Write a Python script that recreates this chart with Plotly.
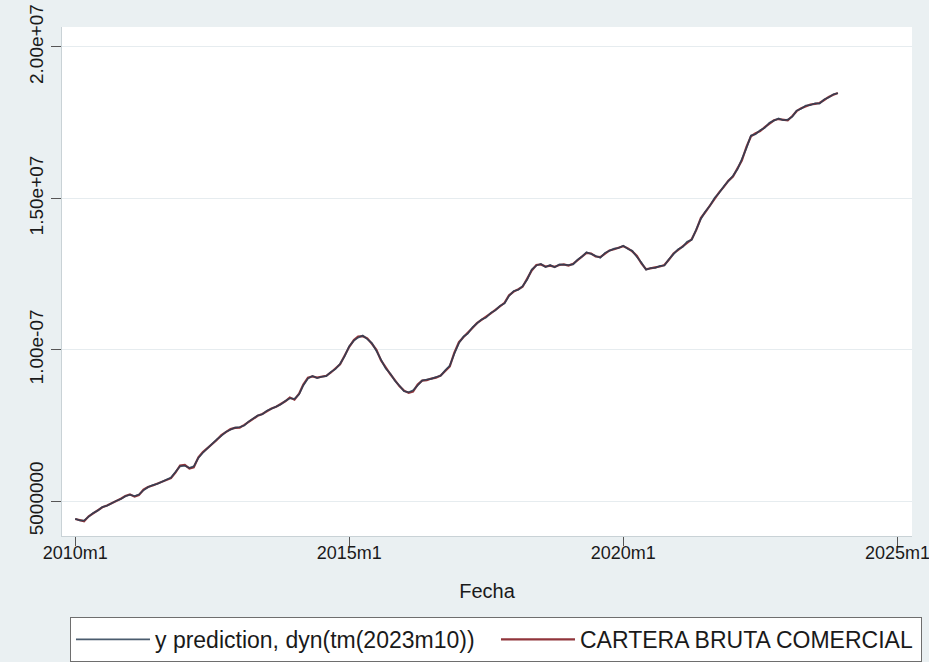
import pandas as pd
import plotly.graph_objects as go

# Monthly series, 2010m1 .. 2023m12 (millions)
inicio = "2010-01-01"
n_meses = 168

cartera_bruta = [
    4.41, 4.38, 4.34, 4.50, 4.60, 4.70, 4.80, 4.86, 4.93, 5.00, 5.08, 5.17,
    5.22, 5.15, 5.20, 5.38, 5.47, 5.52, 5.58, 5.63, 5.70, 5.76, 5.95, 6.18,
    6.20, 6.08, 6.12, 6.45, 6.62, 6.75, 6.90, 7.02, 7.18, 7.28, 7.38, 7.42,
    7.43, 7.52, 7.62, 7.74, 7.82, 7.88, 7.98, 8.06, 8.12, 8.20, 8.30, 8.42,
    8.35, 8.55, 8.85, 9.08, 9.12, 9.08, 9.10, 9.14, 9.25, 9.38, 9.52, 9.80,
    10.10, 10.32, 10.44, 10.45, 10.38, 10.20, 10.00, 9.65, 9.40, 9.20, 9.00, 8.80,
    8.65, 8.58, 8.62, 8.85, 8.98, 9.00, 9.05, 9.08, 9.15, 9.30, 9.45, 9.90,
    10.25, 10.42, 10.55, 10.72, 10.88, 10.98, 11.08, 11.20, 11.32, 11.43, 11.55, 11.80,
    11.92, 12.00, 12.08, 12.35, 12.62, 12.80, 12.82, 12.75, 12.78, 12.74, 12.80, 12.82,
    12.78, 12.84, 12.95, 13.10, 13.20, 13.18, 13.08, 13.06, 13.18, 13.28, 13.32, 13.38,
    13.42, 13.35, 13.25, 13.10, 12.85, 12.66, 12.68, 12.72, 12.75, 12.80, 12.98, 13.18,
    13.30, 13.42, 13.55, 13.65, 13.95, 14.35, 14.55, 14.78, 15.00, 15.20, 15.38, 15.58,
    15.72, 16.00, 16.25, 16.70, 17.05, 17.15, 17.22, 17.35, 17.48, 17.58, 17.62, 17.60,
    17.58, 17.72, 17.88, 17.98, 18.05, 18.10, 18.12, 18.15, 18.25, 18.35, 18.42, 18.48,
]

y_prediccion = [
    4.42, 4.36, 4.36, 4.48, 4.61, 4.69, 4.81, 4.85, 4.94, 5.01, 5.07, 5.16,
    5.21, 5.17, 5.22, 5.36, 5.46, 5.53, 5.57, 5.64, 5.69, 5.78, 5.97, 6.15,
    6.17, 6.10, 6.15, 6.43, 6.60, 6.76, 6.89, 7.04, 7.16, 7.29, 7.36, 7.43,
    7.45, 7.50, 7.63, 7.72, 7.83, 7.87, 7.99, 8.05, 8.13, 8.19, 8.31, 8.40,
    8.38, 8.53, 8.82, 9.05, 9.14, 9.06, 9.11, 9.13, 9.27, 9.36, 9.54, 9.78,
    10.12, 10.30, 10.40, 10.47, 10.35, 10.22, 9.96, 9.68, 9.38, 9.22, 8.98, 8.82,
    8.63, 8.60, 8.66, 8.82, 8.99, 9.02, 9.04, 9.10, 9.14, 9.32, 9.48, 9.86,
    10.22, 10.44, 10.53, 10.74, 10.86, 11.00, 11.06, 11.22, 11.30, 11.45, 11.53, 11.78,
    11.94, 11.98, 12.10, 12.32, 12.65, 12.78, 12.84, 12.73, 12.80, 12.72, 12.82, 12.80,
    12.80, 12.82, 12.97, 13.08, 13.22, 13.16, 13.10, 13.04, 13.20, 13.26, 13.34, 13.36,
    13.44, 13.33, 13.27, 13.06, 12.88, 12.64, 12.70, 12.70, 12.77, 12.78, 13.00, 13.16,
    13.32, 13.40, 13.57, 13.63, 13.98, 14.32, 14.57, 14.76, 15.02, 15.18, 15.40, 15.56,
    15.75, 15.97, 16.28, 16.66, 17.08, 17.12, 17.25, 17.33, 17.50, 17.56, 17.64, 17.58,
    17.60, 17.70, 17.90, 17.96, 18.07, 18.08, 18.14, 18.13, 18.27, 18.33, 18.44, 18.47,
]

ticks_y = [5e6, 1e7, 1.5e7, 2e7]
etiquetas_y = ["5000000", "1.00e-07", "1.50e+07", "2.00e+07"]
ticks_x = ["2010-01-01", "2015-01-01", "2020-01-01", "2025-01-01"]
etiquetas_x = ["2010m1", "2015m1", "2020m1", "2025m1"]

fechas = pd.date_range(inicio, periods=n_meses, freq="MS")
escala = 1e6

fuente = "Liberation Sans, Arial, sans-serif"

fig = go.Figure()
fig.add_trace(go.Scatter(
    x=fechas, y=[v * escala for v in cartera_bruta],
    mode="lines", name="CARTERA BRUTA COMERCIAL",
    line=dict(color="#90353b", width=2.2),
))
fig.add_trace(go.Scatter(
    x=fechas, y=[v * escala for v in y_prediccion],
    mode="lines", name="y prediction, dyn(tm(2023m10))",
    line=dict(color="#2a3f55", width=1.6),
    opacity=0.85,
))

fig.update_layout(
    width=929, height=662,
    margin=dict(l=62, r=17, t=27, b=126, autoexpand=False),
    paper_bgcolor="#eaf0f2",
    plot_bgcolor="#ffffff",
    font=dict(family=fuente, color="#1a1a1a", size=18),
    showlegend=True,
    legend=dict(
        orientation="h",
        traceorder="reversed",
        x=0.0094, xanchor="left",
        y=-0.159, yanchor="top",
        bgcolor="#ffffff",
        bordercolor="#6e6e6e", borderwidth=1,
        font=dict(size=23, family=fuente),
        itemwidth=74,
        entrywidth=336,
    ),
    xaxis=dict(
        range=["2009-10-05", "2025-04-08"],
        tickvals=ticks_x, ticktext=etiquetas_x,
        ticks="outside", ticklen=9, tickcolor="#555555",
        showgrid=False, zeroline=False,
        showline=True, linecolor="#c9d2d6", linewidth=1,
        tickfont=dict(size=18),
        ticklabeloverflow="allow",
        ticklabelstandoff=-9,
        automargin=False,
        title=dict(text="Fecha", font=dict(size=20), standoff=22),
    ),
    yaxis=dict(
        range=[3.85e6, 2.066e7],
        tickvals=ticks_y, ticktext=etiquetas_y,
        tickangle=-90,
        ticks="outside", ticklen=10, tickcolor="#555555",
        showgrid=True, gridcolor="#e6ecef", gridwidth=1,
        zeroline=False,
        showline=True, linecolor="#c9d2d6", linewidth=1,
        tickfont=dict(size=19),
        ticklabeloverflow="allow",
        automargin=False,
    ),
)

fig.write_html("out.html")
